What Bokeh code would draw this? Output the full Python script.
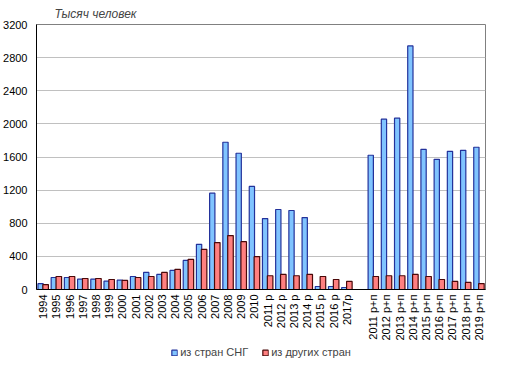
import math
from bokeh.plotting import figure
from bokeh.layouts import column
from bokeh.models import FactorRange, ColumnDataSource, Legend, LegendItem, FixedTicker, Range1d
from bokeh.transform import dodge
from bokeh.embed import file_html
from bokeh.resources import INLINE

categories = ["1994", "1995", "1996", "1997", "1998", "1999", "2000", "2001", "2002",
              "2003", "2004", "2005", "2006", "2007", "2008", "2009", "2010",
              "2011 р", "2012 р", "2013 р", "2014 р", "2015 р", "2016 р", "2017р", " ",
              "2011 р+п", "2012 р+п", "2013 р+п", "2014 р+п", "2015 р+п", "2016 р+п",
              "2017 р+п", "2018 р+п", "2019 р+п"]
nan = float("nan")
cis = [70, 145, 145, 125, 125, 100, 113, 157, 206, 182, 230, 351, 545, 1163, 1778, 1645, 1245,
       857, 966, 954, 869, 36, 36, 24, nan,
       1621, 2057, 2069, 2941, 1693, 1572, 1669, 1681, 1718]
other = [60, 157, 157, 133, 133, 121, 109, 145, 157, 206, 242, 363, 484, 567, 651, 578, 396,
         166, 182, 166, 182, 157, 121, 97, nan,
         157, 166, 166, 182, 157, 121, 97, 85, 72]
y_ticks = [0, 400, 800, 1200, 1600, 2000, 2400, 2800, 3200]
series_names = ["из стран СНГ", "из других стран"]

BLUE_FILL, BLUE_LINE = "#80C4FF", "#23329B"
RED_FILL, RED_LINE = "#FF8080", "#4A0808"

src = ColumnDataSource(dict(cat=categories, cis=cis, other=other))

FONT = "Liberation Sans"
p = figure(x_range=FactorRange(factors=categories, range_padding=0),
           y_range=Range1d(0, 3200), width=502, height=343,
           output_backend="svg", toolbar_location=None,
           min_border_left=31, min_border_right=17, min_border_top=16, min_border_bottom=40)

p.vbar(x=dodge("cat", -0.19, range=p.x_range), top="cis", width=0.4, source=src,
       fill_color=BLUE_FILL, line_color=BLUE_LINE, line_width=1.2)
p.vbar(x=dodge("cat", 0.19, range=p.x_range), top="other", width=0.42, source=src,
       fill_color=RED_FILL, line_color=RED_LINE, line_width=1.2)

p.title.text = "Тысяч человек"
p.title.text_font = FONT
p.title.text_font_style = "italic"
p.title.text_font_size = "12px"
p.title.align = "left"
p.title.offset = 18
p.title.standoff = 8

p.yaxis.ticker = FixedTicker(ticks=y_ticks)
for ax in (p.xaxis, p.yaxis):
    ax.major_tick_line_color = None
    ax.minor_tick_line_color = None
    ax.major_tick_out = 0
    ax.major_tick_in = 0
    ax.axis_line_color = "black"
    ax.major_label_text_font = FONT
    ax.major_label_text_font_size = "11px"
    ax.major_label_text_color = "black"
p.yaxis.major_label_standoff = 9
p.xaxis.major_label_standoff = 5
p.xaxis.major_label_orientation = math.pi / 2

p.xgrid.grid_line_color = None
p.ygrid.grid_line_color = "#C0C0C0"
p.outline_line_color = "#808080"

# legend strip below the chart: same data, drawn outside its visible y range
q = figure(width=502, height=18, output_backend="svg", toolbar_location=None,
           x_range=p.x_range, y_range=Range1d(5000, 6000),
           min_border=0, x_axis_type=None, y_axis_type=None, outline_line_color=None)
q.xgrid.grid_line_color = None
q.ygrid.grid_line_color = None
l1 = q.vbar(x="cat", top="cis", width=0.4, source=src,
            fill_color=BLUE_FILL, line_color=BLUE_LINE, line_width=1.2)
l2 = q.vbar(x="cat", top="other", width=0.4, source=src,
            fill_color=RED_FILL, line_color=RED_LINE, line_width=1.2)
legend = Legend(items=[LegendItem(label=series_names[0], renderers=[l1]),
                       LegendItem(label=series_names[1], renderers=[l2])],
                orientation="horizontal", location="center",
                border_line_color=None, background_fill_alpha=0,
                glyph_width=7, glyph_height=7, label_text_font=FONT,
                label_text_font_size="11px", spacing=13, padding=0, margin=0,
                label_standoff=3, label_height=12)
q.add_layout(legend, "center")

open("out.html", "w").write(file_html(column(p, q, spacing=0), INLINE))
